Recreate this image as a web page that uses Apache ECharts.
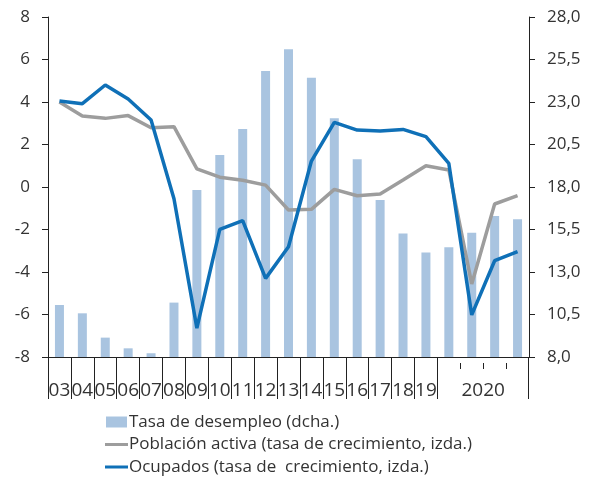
<!DOCTYPE html>
<html>
<head>
<meta charset="utf-8">
<script src="https://cdn.jsdelivr.net/npm/echarts@6/dist/echarts.min.js"></script>
<style>
  html, body { margin: 0; padding: 0; background: #fff; }
  #chart { width: 592px; height: 481px; }
</style>
</head>
<body>
<div id="chart"></div>
<script>
// categories: years 2003-2019, then four quarters of 2020
var categories = ['03', '04', '05', '06', '07', '08', '09', '10', '11', '12', '13', '14', '15', '16', '17', '18', '19', '2020T1', '2020T2', '2020T3', '2020T4'];
// Tasa de desempleo (dcha.)
var desempleo = [11.06, 10.57, 9.14, 8.51, 8.22, 11.2, 17.82, 19.88, 21.41, 24.82, 26.1, 24.43, 22.04, 19.63, 17.24, 15.27, 14.14, 14.45, 15.31, 16.29, 16.1];
// Población activa (tasa de crecimiento, izda.)
var activa = [4.0, 3.34, 3.23, 3.36, 2.79, 2.84, 0.85, 0.46, 0.32, 0.09, -1.08, -1.05, -0.11, -0.41, -0.33, 0.33, 1.0, 0.8, -4.56, -0.8, -0.41];
// Ocupados (tasa de crecimiento, izda.)
var ocupados = [4.05, 3.92, 4.8, 4.14, 3.15, -0.55, -6.64, -1.99, -1.58, -4.3, -2.81, 1.22, 3.04, 2.68, 2.64, 2.71, 2.37, 1.11, -6.02, -3.47, -3.04];

var font = 'Open Sans';
var txt = '#333333';
var lineIcon = 'path://M0,0 M0,4 L23,4 L23,7 L0,7 Z M23,11';

// boundaries between categories (one more than categories), used for separator ticks
var bounds = [];
for (var k = 0; k <= categories.length; k++) bounds.push('b' + k);

function tickAxis(show, len, offset) {
    return {
        type: 'category',
        data: bounds,
        boundaryGap: false,
        position: 'bottom',
        offset: offset,
        axisLine: { show: false, onZero: false },
        axisTick: { show: true, length: len, lineStyle: { color: '#222' }, interval: show },
        axisLabel: { show: false }
    };
}

var chart = echarts.init(document.getElementById('chart'));
var option = {
    animation: false,
    textStyle: { fontFamily: font },
    grid: { left: 48, right: 63, top: 17, bottom: 124 },
    legend: {
        orient: 'vertical',
        left: 105,
        top: 413,
        padding: 0,
        itemWidth: 23,
        itemHeight: 11,
        itemGap: 4.5,
        textStyle: { fontFamily: font, fontSize: 17, color: txt, lineHeight: 18, padding: [0, 0, 0, -4] },
        data: [
            { name: 'Tasa de desempleo (dcha.)', icon: 'path://M2,0 L23,0 L23,11 L2,11 Z' },
            { name: 'Población activa (tasa de crecimiento, izda.)', icon: lineIcon },
            { name: 'Ocupados (tasa de  crecimiento, izda.)', icon: lineIcon }
        ]
    },
    xAxis: [
        {
            type: 'category',
            data: categories,
            axisLine: { onZero: false, lineStyle: { color: '#222', width: 1 } },
            axisTick: { show: false },
            axisLabel: {
                interval: 0,
                margin: 24,
                fontSize: 19,
                color: txt,
                formatter: function (v, i) {
                    if (i < 17) return v;
                    if (i === 18) return '{y|2020}';
                    return '';
                },
                rich: { y: { fontSize: 19, color: txt, padding: [0, 0, 0, 23] } }
            }
        },
        // long separator ticks between years
        tickAxis(function (i) { return i <= 17; }, 42, 0),
        // short quarter ticks under 2020
        tickAxis(function (i) { return i >= 18 && i <= 20; }, 6, 6)
    ],
    yAxis: [
        {
            type: 'value',
            min: -8,
            max: 8,
            interval: 2,
            splitLine: { show: false },
            axisLine: { show: true, lineStyle: { color: '#222' } },
            axisTick: { show: true, length: 6, lineStyle: { color: '#222' } },
            axisLabel: { fontSize: 17, color: txt, margin: 18 }
        },
        {
            type: 'value',
            min: 8,
            max: 28,
            interval: 2.5,
            splitLine: { show: false },
            axisLine: { show: true, lineStyle: { color: '#222' } },
            axisTick: { show: true, length: 6, lineStyle: { color: '#222' } },
            axisLabel: {
                fontSize: 17,
                color: txt,
                margin: 18,
                formatter: function (v) { return v.toFixed(1).replace('.', ','); }
            }
        }
    ],
    series: [
        {
            name: 'Tasa de desempleo (dcha.)',
            type: 'bar',
            yAxisIndex: 1,
            barWidth: 9,
            itemStyle: { color: '#a9c4e0' },
            data: desempleo
        },
        {
            name: 'Población activa (tasa de crecimiento, izda.)',
            type: 'line',
            yAxisIndex: 0,
            symbol: 'none',
            lineStyle: { color: '#9d9d9d', width: 3.5 },
            itemStyle: { color: '#9d9d9d' },
            data: activa
        },
        {
            name: 'Ocupados (tasa de  crecimiento, izda.)',
            type: 'line',
            yAxisIndex: 0,
            symbol: 'none',
            lineStyle: { color: '#0f70b7', width: 3.5 },
            itemStyle: { color: '#0f70b7' },
            data: ocupados
        }
    ]
};
option && chart.setOption(option);

// closing separator tick at the right end of the category axis (gets clipped as an axis tick)
var endX = chart.convertToPixel({ xAxisIndex: 1 }, bounds[bounds.length - 1]);
var baseY = chart.convertToPixel({ yAxisIndex: 0 }, -8);
chart.setOption({
    graphic: [{
        type: 'line',
        silent: true,
        shape: { x1: Math.round(endX) - 0.5, y1: baseY, x2: Math.round(endX) - 0.5, y2: baseY + 42 },
        style: { stroke: '#222', lineWidth: 1 }
    }]
});
</script>
</body>
</html>
